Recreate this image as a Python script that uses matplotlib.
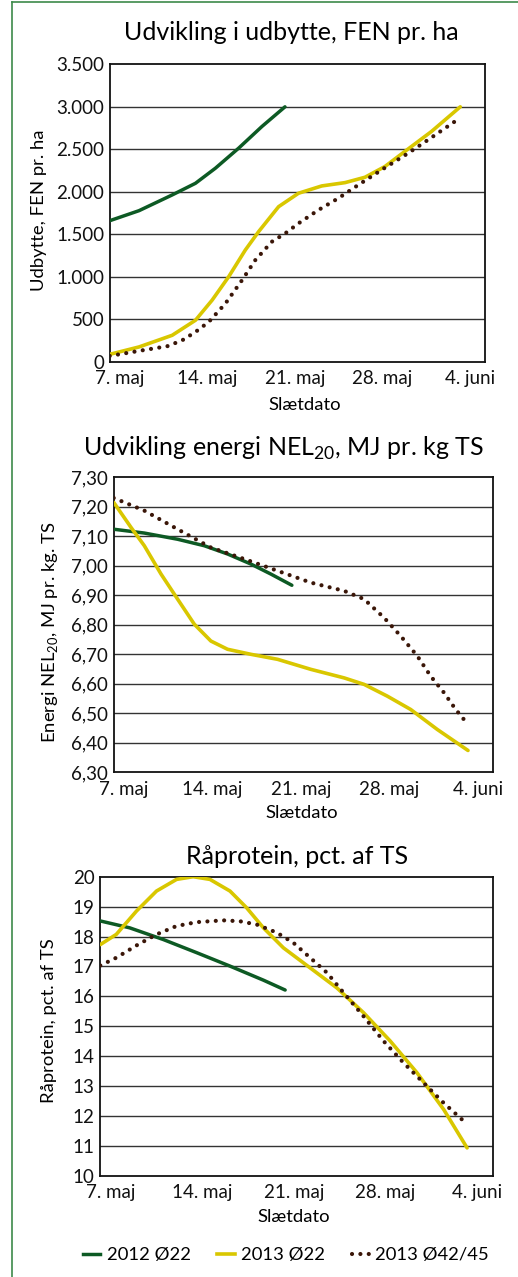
import matplotlib
matplotlib.use('Agg')
import matplotlib.pyplot as plt
import matplotlib.transforms as mtransforms
from matplotlib.lines import Line2D

plt.rcParams['font.family'] = ['Lato', 'DejaVu Sans']
plt.rcParams['mathtext.fontset'] = 'custom'
plt.rcParams['mathtext.rm'] = 'Lato'

# dage efter 7. maj
tick_days = [0, 7, 14, 21, 28]
tick_labels = ['7. maj', '14. maj', '21. maj', '28. maj', '4. juni']

# Udbytte, FEN pr. ha
fen_2012_days = [0, 2.34, 4.99, 6.85, 8.44, 10.3, 12.16, 14.0]
fen_2012 = [1661, 1779, 1964, 2101, 2278, 2514, 2769, 3000]
fen_2013_days = [0, 2.34, 4.99, 6.85, 8.18, 9.5, 10.83, 11.89, 13.49, 15.08, 16.94,
                 18.8, 20.39, 21.98, 23.57, 25.7, 28.0]
fen_2013 = [90, 177, 314, 491, 727, 1002, 1316, 1532, 1826, 1984, 2070,
            2109, 2172, 2298, 2475, 2710, 3000]
fen_4245_days = [0, 2.6, 4.59, 5.79, 6.85, 7.91, 9.24, 10.57, 11.63, 12.95, 14.02,
                 15.08, 16.67, 18.26, 19.86, 21.72, 23.84, 25.43, 27.69]
fen_4245 = [71, 137, 185, 255, 353, 471, 687, 962, 1198, 1414, 1512,
            1630, 1787, 1925, 2082, 2259, 2455, 2612, 2840]

# Energi NEL20, MJ pr. kg TS
nel_2012_days = [0, 2.42, 5.05, 7.16, 9.0, 10.84, 12.42, 14.08]
nel_2012 = [7.124, 7.111, 7.090, 7.068, 7.040, 7.006, 6.972, 6.934]
nel_2013_days = [0, 1.37, 2.42, 3.74, 5.05, 6.37, 7.68, 9.0, 10.84, 12.95, 15.58,
                 18.21, 19.79, 21.63, 23.47, 25.58, 28.0]
nel_2013 = [7.215, 7.130, 7.068, 6.972, 6.887, 6.802, 6.745, 6.717, 6.700, 6.683, 6.649,
            6.620, 6.598, 6.558, 6.513, 6.445, 6.374]
nel_4245_days = [0, 2.42, 5.05, 7.68, 10.32, 12.95, 15.58, 18.21, 19.79, 21.37, 22.68,
                 24.0, 25.05, 26.1, 27.03, 27.89]
nel_4245 = [7.230, 7.187, 7.124, 7.062, 7.023, 6.983, 6.943, 6.915, 6.887, 6.824, 6.762,
            6.694, 6.626, 6.570, 6.513, 6.468]

# Raaprotein, pct. af TS
rp_2012_days = [0, 2.24, 4.8, 7.35, 9.9, 12.45, 14.11]
rp_2012 = [18.52, 18.29, 17.90, 17.46, 17.01, 16.54, 16.21]
rp_2013_days = [0, 1.22, 2.76, 4.29, 5.82, 7.09, 8.37, 9.9, 11.17, 12.45, 13.98,
                16.02, 18.06, 20.1, 22.14, 24.18, 26.22, 28.0]
rp_2013 = [17.73, 18.07, 18.85, 19.52, 19.91, 20.0, 19.91, 19.52, 18.96, 18.29, 17.62,
           16.95, 16.28, 15.45, 14.50, 13.44, 12.21, 10.93]
rp_4245_days = [0, 1.22, 2.76, 4.29, 5.82, 7.35, 9.39, 10.66, 11.94, 13.47, 14.74,
                16.02, 17.3, 18.57, 20.1, 21.63, 23.16, 24.69, 26.22, 27.76]
rp_4245 = [17.03, 17.29, 17.70, 18.07, 18.35, 18.48, 18.54, 18.51, 18.40, 18.13, 17.79,
           17.29, 16.79, 16.12, 15.33, 14.50, 13.77, 13.10, 12.43, 11.82]

GREEN = '#0d5a24'
YELLOW = '#d9c700'
BROWN = '#3a1608'
DOTS = (0, (0.01, 2.0))

W, H = 518, 1277
fig = plt.figure(figsize=(W / 100, H / 100), dpi=100)


def px_axes(left, top, right, bottom):
    return fig.add_axes([left / W, 1 - bottom / H, (right - left) / W, (bottom - top) / H])


def px_text(x, y, s, **kw):
    fig.text(x / W, 1 - y / H, s, ha='center', va='center', **kw)


def style_axes(ax, yticks, ylabels, ylim):
    ax.set_xlim(0, 30)
    ax.set_ylim(*ylim)
    ax.set_yticks(yticks)
    ax.set_yticklabels(ylabels)
    ax.set_xticks(tick_days)
    ax.set_xticklabels(tick_labels)
    ax.tick_params(length=0, labelsize=13.5, colors='#111111', pad=4)
    ax.tick_params(axis='x', pad=6)
    for sp in ax.spines.values():
        sp.set_linewidth(1.3)
        sp.set_color('#111111')
    for y in yticks[1:-1]:
        ax.axhline(y, color='#333333', lw=1.0, zorder=1)
    off = mtransforms.ScaledTranslation(10 / 100, 0, fig.dpi_scale_trans)
    for lab in ax.get_xticklabels():
        lab.set_transform(lab.get_transform() + off)


def draw(ax, d1, v1, d2, v2, d3, v3):
    ax.plot(d1, v1, color=GREEN, lw=2.5, solid_capstyle='round', solid_joinstyle='round', zorder=3)
    ax.plot(d2, v2, color=YELLOW, lw=2.6, solid_capstyle='round', solid_joinstyle='round', zorder=3)
    ax.plot(d3, v3, color=BROWN, lw=3.0, linestyle=DOTS, dash_capstyle='round', zorder=4)


# Panel 1
ax1 = px_axes(109.7, 64.3, 485.3, 362)
draw(ax1, fen_2012_days, fen_2012, fen_2013_days, fen_2013, fen_4245_days, fen_4245)
fen_ticks = list(range(0, 3501, 500))
style_axes(ax1, fen_ticks, [f'{t:,}'.replace(',', '.') for t in fen_ticks], (0, 3500))
px_text(291, 33, 'Udvikling i udbytte, FEN pr. ha', fontsize=18)
px_text(39, 210, 'Udbytte, FEN pr. ha', fontsize=13.3, rotation=90)
px_text(305, 405, 'Slætdato', fontsize=13.3)

# Panel 2
ax2 = px_axes(113.7, 477.3, 493.3, 772.3)
draw(ax2, nel_2012_days, nel_2012, nel_2013_days, nel_2013, nel_4245_days, nel_4245)
nel_ticks = [6.3 + 0.1 * i for i in range(11)]
style_axes(ax2, nel_ticks, [f'{t:.2f}'.replace('.', ',') for t in nel_ticks], (6.3, 7.3))
px_text(283, 448, r'Udvikling energi NEL$_{\mathregular{20}}$, MJ pr. kg TS', fontsize=18)
px_text(50, 632, r'Energi NEL$_{\mathregular{20}}$, MJ pr. kg. TS', fontsize=13.3, rotation=90)
px_text(302, 813, 'Slætdato', fontsize=13.3)

# Panel 3
ax3 = px_axes(100.3, 876.7, 493.3, 1175.7)
draw(ax3, rp_2012_days, rp_2012, rp_2013_days, rp_2013, rp_4245_days, rp_4245)
rp_ticks = list(range(10, 21))
style_axes(ax3, rp_ticks, [str(t) for t in rp_ticks], (10, 20))
px_text(297, 857, 'Råprotein, pct. af TS', fontsize=18)
px_text(49, 1021, 'Råprotein, pct. af TS', fontsize=13.3, rotation=90)
px_text(294, 1217, 'Slætdato', fontsize=13.3)

# Legend
handles = [
    Line2D([], [], color=GREEN, lw=2.5),
    Line2D([], [], color=YELLOW, lw=2.6),
    Line2D([], [], color=BROWN, lw=3.0, linestyle=DOTS, dash_capstyle='round'),
]
fig.legend(handles, ['2012 Ø22', '2013 Ø22', '2013 Ø42/45'], loc='center',
           bbox_to_anchor=(286 / W, 1 - 1255 / H), ncol=3, frameon=False,
           fontsize=13.3, handlelength=0.95, handletextpad=0.33, columnspacing=1.45)

# Groen ramme
fig.add_artist(Line2D([11.5 / W, 11.5 / W], [0, 1 - 1.5 / H], color='#3d8a4a', lw=1.2))
fig.add_artist(Line2D([11.5 / W, 1], [1 - 1.5 / H, 1 - 1.5 / H], color='#3d8a4a', lw=1.2))

fig.savefig('out.png', dpi=100)
